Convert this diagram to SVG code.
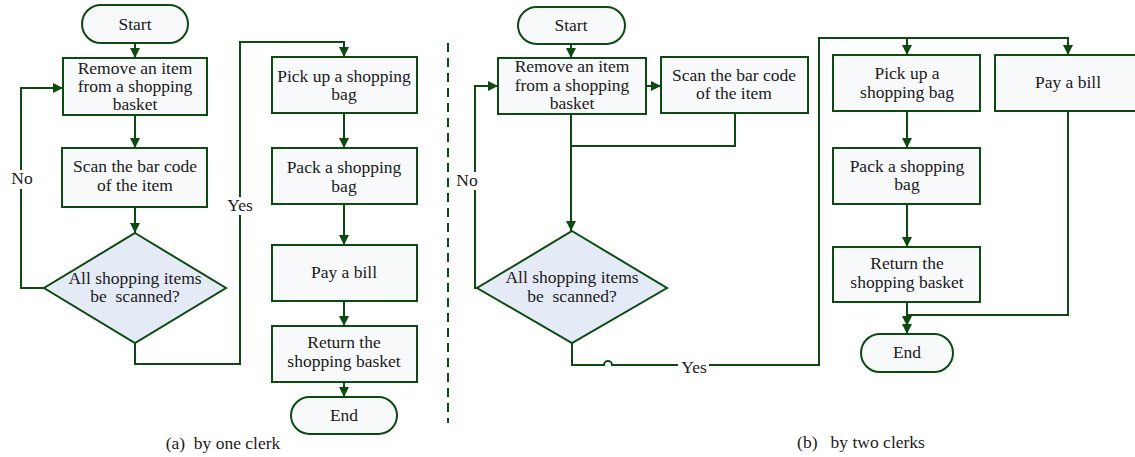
<svg xmlns="http://www.w3.org/2000/svg" width="1135" height="457" viewBox="0 0 1135 457" font-family="'Liberation Serif', 'Times New Roman', 'DejaVu Serif', serif">
<defs>
<marker id="arr" markerUnits="userSpaceOnUse" markerWidth="12" markerHeight="12" refX="10" refY="5" orient="auto">
<path d="M0,0 L10,5 L0,10 z" fill="#0d4a12"/>
</marker>
<style>
.box{fill:#f7f9fb;stroke:#0d4a12;stroke-width:2}
.dia{fill:#e4ebf6;stroke:#0d4a12;stroke-width:2}
.ln{fill:none;stroke:#0d4a12;stroke-width:2}
.a{marker-end:url(#arr)}
text{font-family:'Liberation Serif','Times New Roman','DejaVu Serif',serif;font-size:17.5px;fill:#1a1a1a;text-anchor:middle;white-space:pre}
.bg{fill:#ffffff}
</style>
</defs>
<rect width="1135" height="457" fill="#ffffff"/>

<g id="connectors">
<path class="ln a" d="M135,43 V58"/>
<path class="ln a" d="M135,115 V148"/>
<path class="ln a" d="M135,207 V233"/>
<path class="ln a" d="M44,288 H21 V88 H63"/>
<path class="ln a" d="M135,343 V364 H240 V42 H344 V57"/>
<path class="ln a" d="M344,113 V148"/>
<path class="ln a" d="M344,204 V245"/>
<path class="ln a" d="M344,301 V326"/>
<path class="ln a" d="M344,382 V397"/>
<path d="M448,43 V423" fill="none" stroke="#0d4a12" stroke-width="2" stroke-dasharray="9,6"/>
<path class="ln a" d="M571,44 V58"/>
<path class="ln a" d="M646,86 H661"/>
<path class="ln a" d="M571,114 V231"/>
<path class="ln" d="M735,113 V146 H571"/>
<path class="ln a" d="M477,288 H475 V86 H498"/>
<path class="ln a" d="M572,343 V365 H604 A4,4 0 0 1 612,365 H819 V38 H1068 V55"/>
<path class="ln a" d="M907,38 V55"/>
<path class="ln a" d="M907,111 V148"/>
<path class="ln a" d="M907,204 V247"/>
<path class="ln a" d="M907,302 V334"/>
<path class="ln a" d="M1068,111 V315 H907 V326"/>
</g>

<g id="labels">
<rect class="bg" x="10" y="170" width="24" height="19"/>
<text x="22" y="184">No</text>
<rect class="bg" x="225" y="197" width="30" height="18"/>
<text x="240" y="211">Yes</text>
<rect class="bg" x="456" y="172" width="24" height="18"/>
<text x="467" y="186">No</text>
<rect class="bg" x="678" y="358" width="31" height="18"/>
<text x="694" y="373">Yes</text>
</g>

<g id="a-start"><rect class="box" x="82" y="5" width="106" height="38" rx="19"/><text x="135" y="30">Start</text></g>
<g id="a-remove"><rect class="box" x="63" y="58" width="144" height="57"/><text x="135" y="74">Remove an item</text><text x="135" y="92">from a shopping</text><text x="135" y="110">basket</text></g>
<g id="a-scan"><rect class="box" x="62" y="148" width="145" height="59"/><text x="135" y="172">Scan the bar code</text><text x="135" y="191">of the item</text></g>
<g id="a-decision"><path class="dia" d="M135,233 L226,288 L135,343 L44,288 z"/><text x="135" y="284">All shopping items</text><text x="135" y="302">be  scanned?</text></g>
<g id="a-pickup"><rect class="box" x="272" y="57" width="145" height="56"/><text x="344" y="82">Pick up a shopping</text><text x="344" y="100">bag</text></g>
<g id="a-pack"><rect class="box" x="272" y="148" width="145" height="56"/><text x="344" y="173">Pack a shopping</text><text x="344" y="192">bag</text></g>
<g id="a-pay"><rect class="box" x="272" y="245" width="145" height="56"/><text x="344" y="278">Pay a bill</text></g>
<g id="a-return"><rect class="box" x="272" y="326" width="145" height="56"/><text x="344" y="348">Return the</text><text x="344" y="367">shopping basket</text></g>
<g id="a-end"><rect class="box" x="291" y="397" width="106" height="37" rx="18.5"/><text x="344" y="421">End</text></g>
<text x="223" y="449">(a)  by one clerk</text>

<g id="b-start"><rect class="box" x="518" y="7" width="107" height="37" rx="18.5"/><text x="571" y="31">Start</text></g>
<g id="b-remove"><rect class="box" x="498" y="58" width="148" height="56"/><text x="572" y="72">Remove an item</text><text x="572" y="91">from a shopping</text><text x="572" y="109">basket</text></g>
<g id="b-scan"><rect class="box" x="661" y="57" width="147" height="56"/><text x="734" y="81">Scan the bar code</text><text x="734" y="99">of the item</text></g>
<g id="b-decision"><path class="dia" d="M572,231 L667,288 L572,343 L477,288 z"/><text x="572" y="283">All shopping items</text><text x="572" y="302">be  scanned?</text></g>
<g id="b-pickup"><rect class="box" x="833" y="55" width="147" height="56"/><text x="907" y="79">Pick up a</text><text x="907" y="98">shopping bag</text></g>
<g id="b-pay"><rect class="box" x="995" y="55" width="146" height="56"/><text x="1068" y="88">Pay a bill</text></g>
<g id="b-pack"><rect class="box" x="833" y="148" width="147" height="56"/><text x="907" y="172">Pack a shopping</text><text x="907" y="190">bag</text></g>
<g id="b-return"><rect class="box" x="833" y="247" width="147" height="55"/><text x="907" y="269">Return the</text><text x="907" y="288">shopping basket</text></g>
<g id="b-end"><rect class="box" x="861" y="334" width="92" height="38" rx="19"/><text x="907" y="358">End</text></g>
<text x="861" y="448">(b)   by two clerks</text>
</svg>
